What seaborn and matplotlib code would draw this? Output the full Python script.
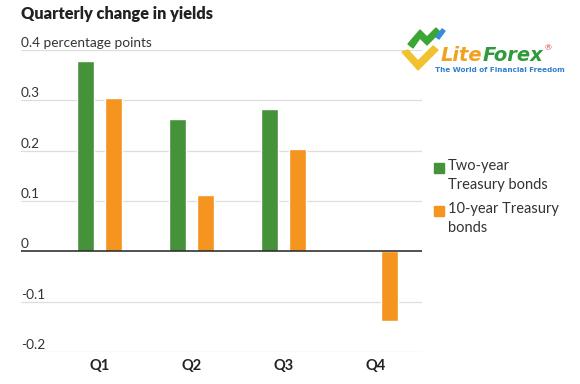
import matplotlib
matplotlib.use("Agg")
import matplotlib.pyplot as plt
import seaborn as sns
import pandas as pd
from matplotlib.patches import Rectangle, Polygon

quarters = ["Q1", "Q2", "Q3", "Q4"]
two_year = [0.378, 0.262, 0.282, None]
ten_year = [0.305, 0.112, 0.204, -0.138]
series_names = ["Two-year\nTreasury bonds", "10-year Treasury\nbonds"]
yticks = [-0.2, -0.1, 0, 0.1, 0.2, 0.3, 0.4]
ytick_labels = ["-0.2", "-0.1", "0", "0.1", "0.2", "0.3", "0.4 percentage points"]
colors = ["#45923A", "#F5951F"]

rows = []
for q, a, b in zip(quarters, two_year, ten_year):
    rows.append({"quarter": q, "series": series_names[0], "value": a if a is not None else float("nan")})
    rows.append({"quarter": q, "series": series_names[1], "value": b})
df = pd.DataFrame(rows)

sns.set_theme(style="white")
plt.rcParams["font.family"] = ["Lato", "DejaVu Sans"]

fig = plt.figure(figsize=(5.8, 3.84), dpi=100)
W, H = 580, 384
ax = fig.add_axes([21 / W, (H - 352) / H, (422 - 21) / W, (352 - 50) / H])

sns.barplot(data=df, x="quarter", y="value", hue="series", order=quarters,
            hue_order=series_names, palette=colors, width=0.609, gap=0.39,
            saturation=1, legend=False, ax=ax, err_kws={"linewidth": 0})

ax.set_xlim(-0.853, 3.505)
ax.set_ylim(-0.2, 0.4)
for s in ax.spines.values():
    s.set_visible(False)
for y in yticks:
    if y == 0:
        ax.axhline(0, color="#222222", lw=1.1, zorder=3)
    else:
        ax.axhline(y, color="#dddddd", lw=0.9, zorder=0)
ax.set_yticks([])
ax.set_ylabel("")
ax.set_xlabel("")
for y, lab in zip(yticks, ytick_labels):
    ax.text(0.0, y + 0.006, lab, transform=ax.get_yaxis_transform(), ha="left", va="baseline",
            fontsize=9.8, color="#333333", clip_on=False)
ax.tick_params(axis="x", length=0, pad=5, labelsize=10.5)
for t in ax.get_xticklabels():
    t.set_fontweight("bold")
    t.set_color("#222222")

fig.text(21 / W, 1 - 14 / H, "Quarterly change in yields", fontsize=11.8, fontweight="heavy",
         color="#222222", ha="left", va="center")

# legend
for i, (name, c) in enumerate(zip(series_names, colors)):
    ytop = 161 + i * 43
    fig.patches.append(Rectangle((434 / W, 1 - (ytop + 12) / H), 10 / W, 10 / H,
                                 transform=fig.transFigure, color=c))
    fig.text(448 / W, 1 - (ytop - 2) / H, name, fontsize=10.5, color="#333333",
             ha="left", va="top", linespacing=1.45)

# logo
fig.patches.append(Polygon([(402 / W, 1 - 52 / H), (418 / W, 1 - 70 / H), (438 / W, 1 - 50 / H),
                            (433 / W, 1 - 46 / H), (418 / W, 1 - 61 / H), (408 / W, 1 - 50 / H)],
                           closed=True, transform=fig.transFigure, color="#F2C12E"))
fig.patches.append(Polygon([(408 / W, 1 - 44 / H), (420 / W, 1 - 30 / H), (427 / W, 1 - 37 / H),
                            (436 / W, 1 - 28 / H), (440 / W, 1 - 32 / H), (427 / W, 1 - 45 / H),
                            (420 / W, 1 - 38 / H), (413 / W, 1 - 48 / H)],
                           closed=True, transform=fig.transFigure, color="#3BA535"))
fig.patches.append(Polygon([(436 / W, 1 - 37 / H), (442 / W, 1 - 29 / H), (445 / W, 1 - 31 / H),
                            (439 / W, 1 - 39 / H)],
                           closed=True, transform=fig.transFigure, color="#2F8FD8"))
t1 = fig.text(441 / W, 1 - 61 / H, "Lite", fontsize=14, fontweight="bold", style="italic",
              color="#F0A21F", ha="left", va="baseline", family=["DejaVu Sans"])
r = fig.canvas.get_renderer()
bb = t1.get_window_extent(renderer=r)
t2 = fig.text(bb.x1 / W, 1 - 61 / H, "Forex", fontsize=14, fontweight="bold", style="italic",
              color="#2E9A3A", ha="left", va="baseline", family=["DejaVu Sans"])
bb2 = t2.get_window_extent(renderer=r)
fig.text(bb2.x1 / W + 0.002, 1 - 50 / H, "®", fontsize=6, color="#E04040", ha="left", va="baseline")
fig.text(435 / W, 1 - 72 / H, "The World of Financial Freedom", fontsize=5.2, fontweight="bold",
         color="#2F7FD0", ha="left", va="baseline", family=["DejaVu Sans"])

fig.savefig("out.png", dpi=100)
